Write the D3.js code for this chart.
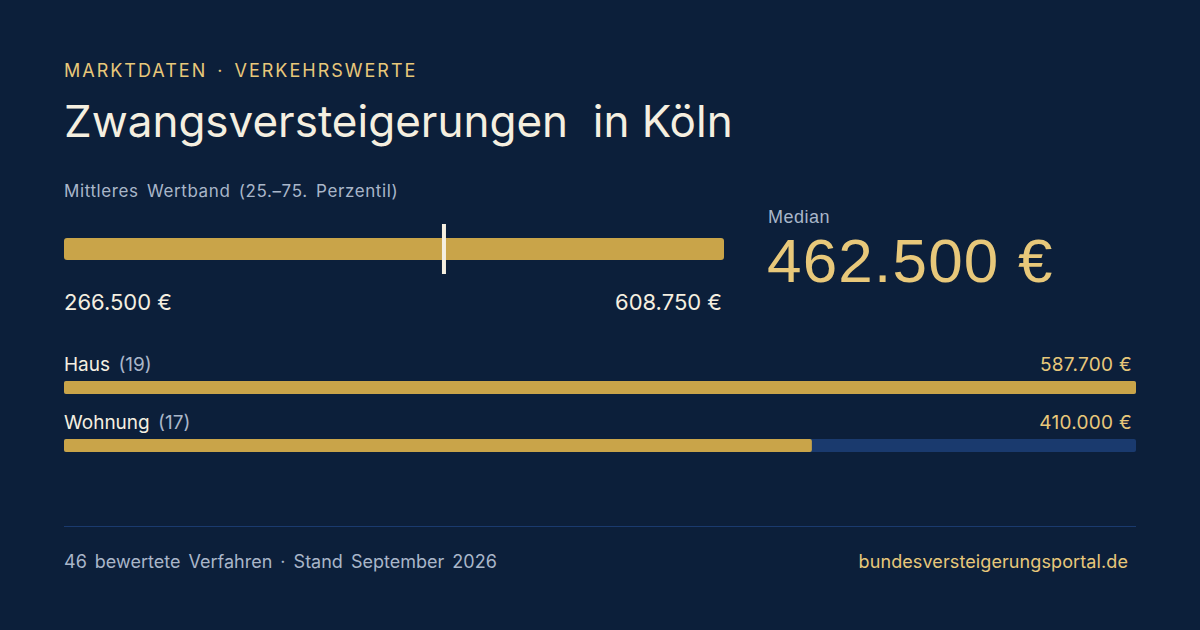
<!DOCTYPE html>
<meta charset="utf-8">
<head>
  <style>
    html, body { margin: 0; padding: 0; background: #0c1f3a; }
    svg text { font-family: Inter, "Noto Sans", sans-serif; }
  </style>
</head>

<script src="https://d3js.org/d3.v7.min.js"></script>

<div id="chart"></div>
<script>

  // chart values
  const kicker = ["MARKTDATEN", "VERKEHRSWERTE"];
  const city = "Köln";
  const bandLabels = ["25.", "75."];
  const bandValues = [266500, 608750];   // p25, p75
  const medianValue = 462500;
  const categories = ["Haus", "Wohnung"];
  const categoryCounts = [19, 17];
  const categoryMedians = [587700, 410000];
  const totalCases = 46;
  const standMonth = "September 2026";
  const site = "bundesversteigerungsportal.de";

  var width = 1200,
      height = 630,
      margin = {left: 64, right: 64};

  var gold = "#c9a449",
      goldText = "#e8c87a",
      cream = "#f5efe0",
      muted = "#a9b6c9",
      track = "#1a3a6e",
      bg = "#0c1f3a";

  const euro = v => d3.format(",.0f")(v).replace(/,/g, ".") + " €";

  var svg = d3.select("#chart")
    .append("svg")
      .attr("width", width)
      .attr("height", height);

  svg.append("rect")
    .attr("width", width)
    .attr("height", height)
    .attr("fill", bg);

  // header
  svg.append("text")
    .attr("x", margin.left)
    .attr("y", 77)
    .attr("fill", goldText)
    .style("font-size", "18px")
    .style("letter-spacing", "2px")
    .style("word-spacing", "3px")
    .text(kicker.join(" · "));

  svg.append("text")
    .attr("x", margin.left)
    .attr("y", 137)
    .attr("fill", cream)
    .style("font-size", "44px")
    .style("letter-spacing", "0px")
    .style("white-space", "pre")
    .text("Zwangsversteigerungen  in " + city);

  svg.append("text")
    .attr("x", margin.left)
    .attr("y", 197)
    .attr("fill", muted)
    .style("font-size", "17px")
    .style("letter-spacing", "0.6px")
    .style("word-spacing", "3px")
    .text(`Mittleres Wertband (${bandLabels[0]}–${bandLabels[1]} Perzentil)`);

  // range band
  var band = d3.scaleLinear()
    .domain(bandValues)
    .range([margin.left, 724]);

  svg.append("rect")
    .attr("x", band(bandValues[0]))
    .attr("y", 238)
    .attr("width", band(bandValues[1]) - band(bandValues[0]))
    .attr("height", 22)
    .attr("rx", 3)
    .attr("fill", gold);

  svg.append("rect")
    .attr("x", band(medianValue))
    .attr("y", 224)
    .attr("width", 4)
    .attr("height", 50)
    .attr("fill", cream);

  svg.selectAll(".band-label")
    .data(bandValues)
    .join("text")
      .attr("class", "band-label")
      .attr("x", (d, i) => i ? band(d) - 2 : band(d))
      .attr("y", 310)
      .attr("text-anchor", (d, i) => i ? "end" : "start")
      .attr("fill", cream)
      .style("font-size", "22px")
      .text(d => euro(d));

  // median block
  svg.append("text")
    .attr("x", 768)
    .attr("y", 223)
    .attr("fill", muted)
    .style("font-family", "'Liberation Sans', Arial, sans-serif")
    .style("font-size", "18px")
    .style("letter-spacing", "0.5px")
    .text("Median");

  svg.append("text")
    .attr("x", 767)
    .attr("y", 282)
    .attr("fill", goldText)
    .style("font-family", "'Liberation Sans', Arial, sans-serif")
    .style("font-size", "62px")
    .style("letter-spacing", "1.2px")
    .text(euro(medianValue));

  // category bars
  var x = d3.scaleLinear()
    .domain([0, d3.max(categoryMedians)])
    .range([margin.left, width - margin.right]);

  var y = d3.scaleBand()
    .domain(categories)
    .range([346, 462])
    .paddingInner(0);

  var rows = svg.selectAll(".row")
    .data(categories)
    .join("g")
      .attr("class", "row")
      .attr("transform", d => `translate(0,${y(d)})`);

  rows.append("text")
    .attr("x", margin.left)
    .attr("y", 25)
    .attr("fill", cream)
    .style("font-size", "19px")
    .style("word-spacing", "3px")
    .text((d, i) => d + " ");
  rows.select("text")
    .append("tspan")
      .attr("fill", muted)
      .text((d, i) => `(${categoryCounts[i]})`);

  rows.append("text")
    .attr("x", width - margin.right - 4)
    .attr("y", 25)
    .attr("text-anchor", "end")
    .attr("fill", goldText)
    .style("font-size", "19px")
    .style("letter-spacing", "0.3px")
    .text((d, i) => euro(categoryMedians[i]));

  rows.append("rect")
    .attr("x", x(0))
    .attr("y", 35)
    .attr("width", x.range()[1] - x(0))
    .attr("height", 13)
    .attr("rx", 2)
    .attr("fill", track);

  rows.append("rect")
    .attr("x", x(0))
    .attr("y", 35)
    .attr("width", (d, i) => x(categoryMedians[i]) - x(0))
    .attr("height", 13)
    .attr("rx", 2)
    .attr("fill", gold);

  // footer
  svg.append("line")
    .attr("x1", margin.left)
    .attr("x2", width - margin.right)
    .attr("y1", 526.5)
    .attr("y2", 526.5)
    .attr("stroke", track)
    .attr("stroke-width", 1);

  svg.append("text")
    .attr("x", margin.left)
    .attr("y", 568)
    .attr("fill", muted)
    .style("font-size", "18px")
    .style("word-spacing", "3px")
    .text(`${totalCases} bewertete Verfahren · Stand ${standMonth}`);

  svg.append("text")
    .attr("x", 1128)
    .attr("y", 568)
    .attr("text-anchor", "end")
    .attr("fill", goldText)
    .style("font-size", "18px")
    .style("letter-spacing", "0.1px")
    .text(site);

</script>
